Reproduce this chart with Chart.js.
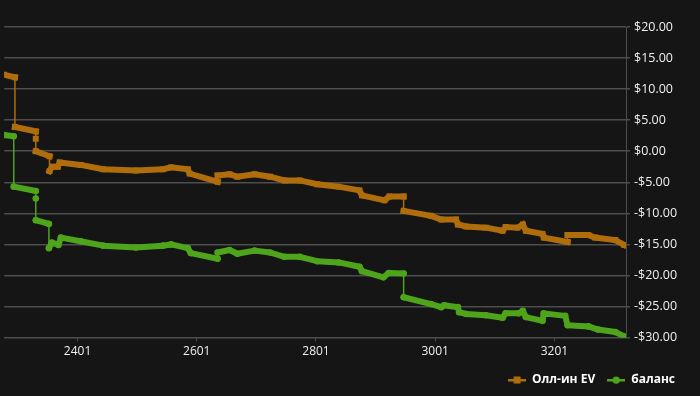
<!DOCTYPE html>
<html>
<head>
<meta charset="utf-8">
<script src="https://cdn.jsdelivr.net/npm/chart.js@4"></script>
<style>
  html, body { margin: 0; padding: 0; background: #151515; }
</style>
</head>
<body>
<canvas id="evChart" width="700" height="396"></canvas>
<script>
// x ticks shown on the axis (hand numbers)
const xTicks = [2401, 2601, 2801, 3001, 3201];

// Олл-ин EV series (hand number / dollars)
const evX = [2278, 2296, 2296, 2331, 2331, 2331, 2354, 2354, 2358, 2368,
  2371, 2406, 2444, 2499, 2544, 2558, 2586, 2589, 2636, 2636,
  2656, 2669, 2698, 2724, 2748, 2774, 2803, 2839, 2874, 2878,
  2916, 2924, 2948, 2948, 2994, 3011, 3036, 3039, 3053, 3086,
  3114, 3119, 3139, 3148, 3153, 3181, 3183, 3223, 3223, 3258,
  3269, 3303, 3318];
const evY = [12.3, 11.9, 3.9, 3.2, 2.0, 0.0, -0.8, -3.2, -2.5, -2.5,
  -1.8, -2.2, -2.9, -3.1, -2.9, -2.6, -2.9, -3.6, -4.9, -3.9,
  -3.7, -4.1, -3.7, -4.1, -4.7, -4.7, -5.3, -5.7, -6.3, -7.1,
  -7.9, -7.3, -7.3, -9.6, -10.4, -11.0, -11.0, -11.8, -12.1, -12.3,
  -12.8, -12.2, -12.3, -11.8, -12.8, -13.3, -13.9, -14.6, -13.5, -13.5,
  -13.9, -14.3, -15.1];

// баланс series
const balX = [2278, 2294, 2294, 2331, 2331, 2331, 2353, 2353, 2358, 2369,
  2373, 2406, 2444, 2499, 2544, 2558, 2586, 2591, 2636, 2636,
  2656, 2669, 2698, 2724, 2748, 2774, 2803, 2839, 2874, 2878,
  2914, 2923, 2948, 2948, 2994, 3011, 3016, 3039, 3041, 3053,
  3086, 3114, 3119, 3141, 3148, 3153, 3181, 3183, 3219, 3223,
  3258, 3274, 3303, 3318];
const balY = [2.6, 2.4, -5.7, -6.4, -7.6, -11.1, -11.7, -15.6, -14.7, -15.1,
  -13.9, -14.5, -15.2, -15.5, -15.2, -15.0, -15.6, -16.4, -17.3, -16.3,
  -15.9, -16.5, -16.0, -16.3, -17.0, -17.0, -17.7, -17.9, -18.6, -19.3,
  -20.3, -19.6, -19.7, -23.5, -24.6, -25.1, -24.8, -25.1, -25.9, -26.2,
  -26.4, -26.8, -26.1, -26.1, -25.7, -26.7, -27.3, -26.1, -26.5, -28.0,
  -28.2, -28.7, -29.1, -29.8];

const evColour = '#b06d0b';
const balColour = '#4ea51b';
const gridColour = '#4d4d4d';
const textColour = '#f0f0f0';
const fontFamily = '"Open Sans", "DejaVu Sans", sans-serif';

const toPoints = (xs, ys) => xs.map((x, i) => ({ x, y: ys[i] }));

// jumps between runs are thin, the runs themselves are a thick band of markers
const segWidth = ctx => Math.abs(ctx.p1.x - ctx.p0.x) < 1 ? 1.5 : 6;

function legendIcon(colour, shape) {
  const c = document.createElement('canvas');
  c.width = 18;
  c.height = 10;
  const g = c.getContext('2d');
  g.fillStyle = colour;
  g.fillRect(0, 4, 18, 2.5);
  if (shape === 'rect') {
    g.fillRect(5.5, 1.5, 7, 7);
  } else {
    g.beginPath();
    g.arc(9, 5.2, 3.6, 0, Math.PI * 2);
    g.fill();
  }
  return c;
}
const legendIcons = [legendIcon(evColour, 'rect'), legendIcon(balColour, 'circle')];

const money = v => (v < 0 ? '-$' : '$') + Math.abs(v).toFixed(2);

new Chart(document.getElementById('evChart'), {
  type: 'line',
  data: {
    datasets: [
      {
        label: 'Олл-ин EV',
        data: toPoints(evX, evY),
        borderColor: evColour,
        backgroundColor: evColour,
        pointBackgroundColor: evColour,
        pointBorderWidth: 0,
        pointStyle: 'rect',
        pointRadius: 4.2,
        pointHoverRadius: 4.2,
        borderWidth: 6,
        borderCapStyle: 'square',
        borderJoinStyle: 'miter',
        tension: 0,
        segment: { borderWidth: segWidth }
      },
      {
        label: 'баланс',
        data: toPoints(balX, balY),
        borderColor: balColour,
        backgroundColor: balColour,
        pointBackgroundColor: balColour,
        pointBorderWidth: 0,
        pointStyle: 'circle',
        pointRadius: 3.3,
        pointHoverRadius: 3.3,
        borderWidth: 6,
        borderCapStyle: 'round',
        borderJoinStyle: 'round',
        tension: 0,
        segment: { borderWidth: segWidth }
      }
    ]
  },
  options: {
    responsive: false,
    animation: false,
    layout: { padding: { top: 27, right: 13, left: 0, bottom: 0 } },
    plugins: {
      tooltip: { enabled: false },
      legend: {
        position: 'bottom',
        align: 'end',
        labels: {
          color: '#ffffff',
          font: { family: fontFamily, size: 12, weight: 'bold' },
          usePointStyle: true,
          pointStyleWidth: 18,
          padding: 12,
          generateLabels(chart) {
            const items = Chart.defaults.plugins.legend.labels.generateLabels(chart);
            items.forEach((it, i) => { it.pointStyle = legendIcons[i]; });
            return items;
          }
        }
      }
    },
    scales: {
      x: {
        type: 'linear',
        min: 2278,
        max: 3321,
        afterBuildTicks: axis => { axis.ticks = xTicks.map(v => ({ value: v })); },
        ticks: {
          autoSkip: false,
          maxRotation: 0,
          color: textColour,
          font: { family: fontFamily, size: 12 },
          padding: 3,
          callback: v => String(v)
        },
        grid: { drawOnChartArea: false, drawTicks: true, tickLength: 4, color: gridColour },
        border: { display: true, color: gridColour }
      },
      y: {
        position: 'right',
        min: -30,
        max: 20,
        afterFit: axis => { axis.width = 61; },
        ticks: {
          stepSize: 5,
          color: textColour,
          font: { family: fontFamily, size: 12.5 },
          padding: 4,
          callback: money
        },
        grid: { color: gridColour, lineWidth: 1.5, tickLength: 4 },
        border: { display: true, color: gridColour }
      }
    }
  }
});
</script>
</body>
</html>
